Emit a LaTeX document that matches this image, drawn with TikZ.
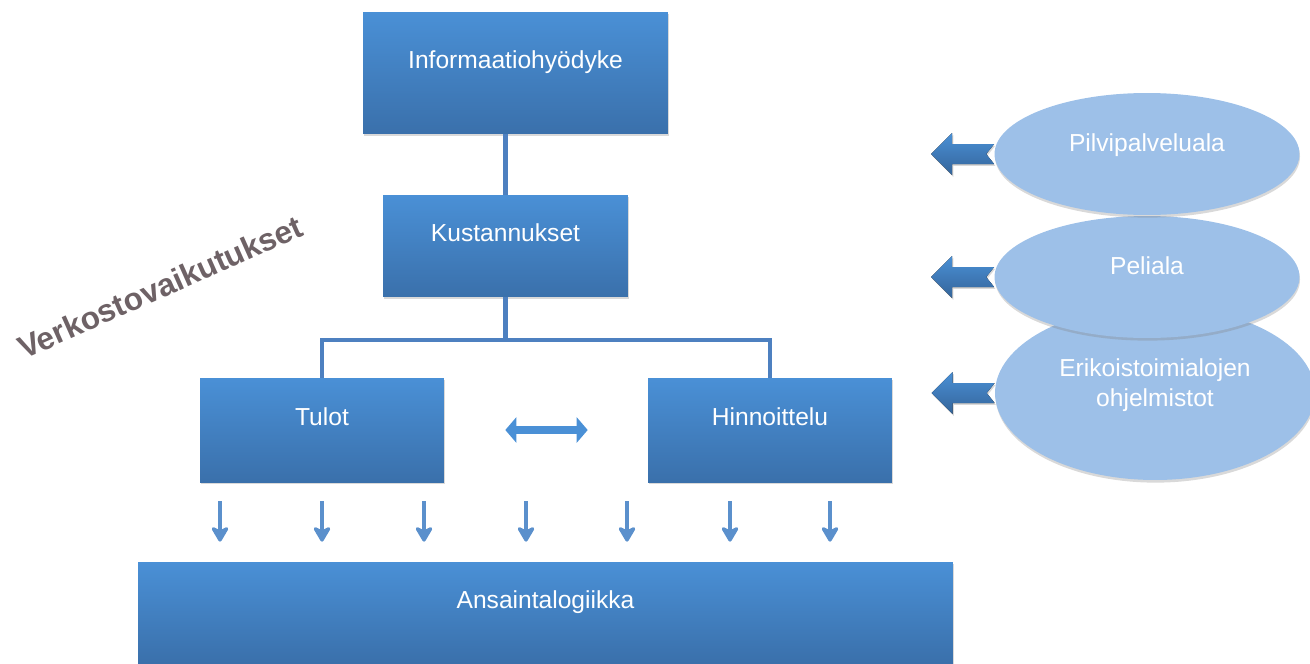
\documentclass[tikz,border=0pt]{standalone}
\usepackage{fontspec}
\setmainfont{Liberation Sans}
\usetikzlibrary{shapes.geometric,arrows.meta,shadows}
\definecolor{boxtop}{HTML}{4A90D6}
\definecolor{boxbot}{HTML}{3A70AB}
\definecolor{linkblue}{HTML}{4D80C0}
\definecolor{arrblue}{HTML}{5B90CC}
\definecolor{ellblue}{HTML}{9DC0E8}
\definecolor{netgray}{HTML}{6E6266}

\begin{document}
\begin{tikzpicture}[x=0.02cm,y=-0.02cm,
    box/.style={rectangle, inner sep=0pt, top color=boxtop, bottom color=boxbot, text=white,
        font=\fontsize{14}{17}\selectfont, text height=0.36cm, text depth=0.53cm,
        drop shadow={shadow xshift=0.4pt, shadow yshift=-1.2pt, opacity=0.3}},
    sector/.style={ellipse, inner sep=0pt, fill=ellblue, text=white, align=center,
        font=\fontsize{14}{17.5}\selectfont, text height=0.36cm, text depth=0.45cm,
        minimum width=6.1cm, minimum height=2.44cm,
        drop shadow={shadow xshift=0.3pt, shadow yshift=-1.5pt, opacity=0.3}},
    link/.style={draw=linkblue, line width=2.3pt},
    down/.style={draw=arrblue, line width=2.2pt, -{Stealth[length=0.36cm,width=0.42cm,inset=0.1cm,round]}},
    both/.style={draw=boxtop, line width=4.5pt, {Triangle[length=0.22cm,width=0.5cm]}-{Triangle[length=0.22cm,width=0.5cm]}},
    inflow/.style={top color=boxtop, bottom color=boxbot!90!black,
        drop shadow={shadow xshift=0.6pt, shadow yshift=-1pt, opacity=0.3}}
]
\useasboundingbox (0,0) rectangle (1310,663);

\node[box, minimum width=6.1cm, minimum height=2.44cm] (info) at (515.5,73) {Informaatiohyödyke};
\node[box, minimum width=4.9cm, minimum height=2.04cm] (cost) at (505.5,246) {Kustannukset};
\node[box, minimum width=4.88cm, minimum height=2.08cm] (tulot) at (322,430) {Tulot};
\node[box, minimum width=4.88cm, minimum height=2.08cm] (hinn) at (770,430) {Hinnoittelu};
\node[box, minimum width=16.3cm, minimum height=2.02cm] (logic) at (545.5,612.5) {Ansaintalogiikka};

\coordinate (split) at (505.5,340);
\draw[link] (cost.north) -- (cost.north |- info.south);
\draw[link] (cost.south) -- (split);
\draw[link] (split) -| (tulot.north);
\draw[link] (split) -| (hinn.north);

\draw[both, shorten <=1.22cm, shorten >=1.2cm] (tulot) -- (hinn);

\foreach \i/\x in {1/220,2/322,3/424,4/526,5/627,6/730,7/830} {
    \coordinate (d\i) at (\x,501);
    \draw[down, shorten >=0.4cm] (d\i) -- (d\i |- logic.north);
}

\node[sector, minimum width=6.4cm, minimum height=3.48cm, text height=0.68cm, text depth=0.13cm]
    (e3) at (1155,393) {Erikoistoimialojen\\ohjelmistot};
\node[sector] (e2) at (1147,277) {Peliala};
\node[sector] (e1) at (1147,154) {Pilvipalveluala};

\foreach \e in {e1,e2,e3}
    \fill[inflow] (\e.west) ++(0,-10) -- ++(-42,0) -- ++(0,-11) -- ++(-21,21) -- ++(21,21)
        -- ++(0,-11) -- ++(42,0) -- ++(-8,-10) -- cycle;

\node[rotate=24, text=netgray, font=\bfseries\fontsize{18}{20}\selectfont] (net) at (160,287) {Verkostovaikutukset};

\end{tikzpicture}
\end{document}
